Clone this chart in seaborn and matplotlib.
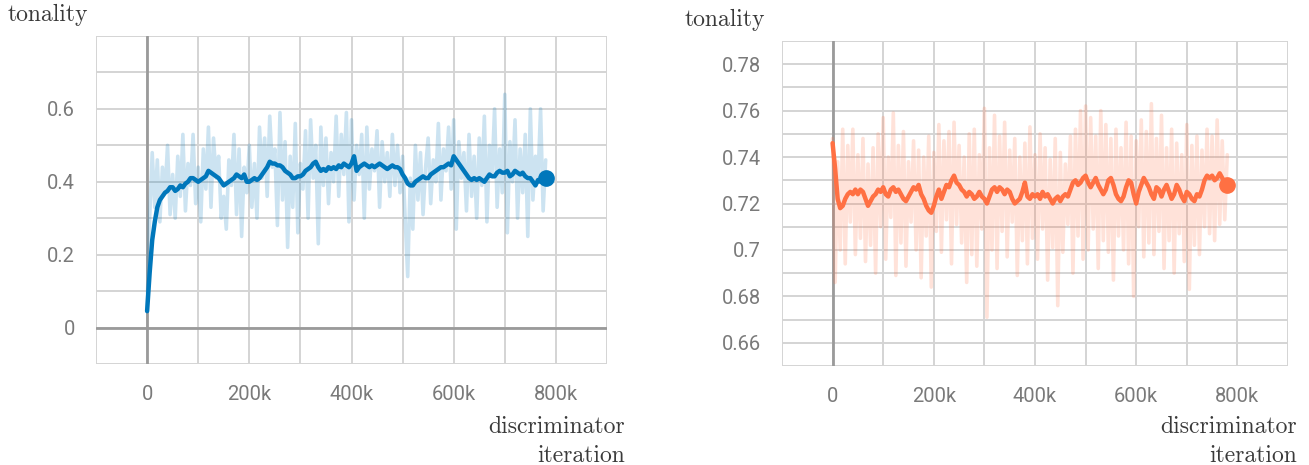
import numpy as np
import pandas as pd
import matplotlib
matplotlib.use("Agg")
import matplotlib.pyplot as plt
import matplotlib.ticker as mticker
import seaborn as sns

# ---------------- data ----------------
step_k = list(range(0, 785, 5))  # discriminator iteration, thousands

left_raw = [
    0.05, 0.30, 0.48, 0.33, 0.46, 0.29, 0.44, 0.37, 0.50, 0.31,
    0.42, 0.30, 0.47, 0.36, 0.53, 0.32, 0.45, 0.39, 0.53, 0.34,
    0.44, 0.29, 0.49, 0.38, 0.55, 0.33, 0.52, 0.41, 0.47, 0.30,
    0.36, 0.27, 0.46, 0.39, 0.53, 0.31, 0.49, 0.25, 0.44, 0.37,
    0.50, 0.33, 0.45, 0.30, 0.55, 0.41, 0.52, 0.36, 0.58, 0.44,
    0.49, 0.28, 0.59, 0.35, 0.51, 0.22, 0.47, 0.33, 0.56, 0.26,
    0.45, 0.38, 0.54, 0.30, 0.57, 0.41, 0.50, 0.23, 0.55, 0.39,
    0.52, 0.34, 0.48, 0.40, 0.58, 0.36, 0.53, 0.42, 0.59, 0.29,
    0.57, 0.35, 0.50, 0.42, 0.53, 0.30, 0.55, 0.38, 0.49, 0.43,
    0.54, 0.33, 0.51, 0.40, 0.48, 0.36, 0.53, 0.39, 0.50, 0.37,
    0.47, 0.30, 0.14, 0.41, 0.27, 0.50, 0.35, 0.48, 0.31, 0.44,
    0.52, 0.34, 0.46, 0.40, 0.56, 0.35, 0.49, 0.43, 0.55, 0.38,
    0.57, 0.27, 0.51, 0.41, 0.48, 0.32, 0.53, 0.36, 0.47, 0.30,
    0.52, 0.39, 0.58, 0.29, 0.50, 0.42, 0.60, 0.33, 0.49, 0.37,
    0.64, 0.26, 0.51, 0.40, 0.57, 0.30, 0.49, 0.37, 0.53, 0.25,
    0.60, 0.35, 0.47, 0.41, 0.60, 0.32, 0.46,
]

left_smooth = [
    0.045, 0.15, 0.24, 0.29, 0.33, 0.35, 0.36, 0.37, 0.375, 0.385,
    0.385, 0.375, 0.38, 0.39, 0.385, 0.395, 0.40, 0.41, 0.41, 0.405,
    0.40, 0.405, 0.41, 0.415, 0.43, 0.425, 0.42, 0.415, 0.41, 0.40,
    0.39, 0.395, 0.40, 0.405, 0.41, 0.42, 0.415, 0.41, 0.42, 0.40,
    0.40, 0.405, 0.41, 0.405, 0.41, 0.42, 0.43, 0.44, 0.455, 0.45,
    0.45, 0.445, 0.445, 0.44, 0.43, 0.425, 0.42, 0.41, 0.41, 0.415,
    0.415, 0.42, 0.43, 0.435, 0.44, 0.45, 0.455, 0.44, 0.43, 0.435,
    0.43, 0.44, 0.435, 0.44, 0.435, 0.445, 0.44, 0.45, 0.445, 0.44,
    0.45, 0.47, 0.43, 0.44, 0.445, 0.45, 0.445, 0.44, 0.445, 0.44,
    0.445, 0.45, 0.445, 0.44, 0.435, 0.44, 0.445, 0.44, 0.44, 0.435,
    0.42, 0.41, 0.395, 0.39, 0.39, 0.40, 0.405, 0.41, 0.415, 0.41,
    0.41, 0.42, 0.425, 0.43, 0.435, 0.44, 0.44, 0.445, 0.45, 0.445,
    0.47, 0.46, 0.45, 0.44, 0.43, 0.42, 0.41, 0.405, 0.41, 0.405,
    0.41, 0.405, 0.40, 0.41, 0.42, 0.415, 0.415, 0.425, 0.43, 0.425,
    0.425, 0.43, 0.415, 0.42, 0.43, 0.425, 0.42, 0.425, 0.415, 0.41,
    0.41, 0.40, 0.39, 0.405, 0.40, 0.41, 0.41,
]

right_raw = [
    0.748, 0.686, 0.738, 0.700, 0.752, 0.694, 0.745, 0.712, 0.752, 0.698,
    0.741, 0.705, 0.748, 0.695, 0.737, 0.702, 0.744, 0.690, 0.750, 0.710,
    0.757, 0.696, 0.740, 0.714, 0.759, 0.689, 0.745, 0.703, 0.751, 0.693,
    0.738, 0.712, 0.747, 0.700, 0.743, 0.688, 0.740, 0.706, 0.749, 0.684,
    0.742, 0.708, 0.754, 0.699, 0.747, 0.713, 0.751, 0.694, 0.755, 0.711,
    0.745, 0.703, 0.740, 0.686, 0.750, 0.698, 0.752, 0.693, 0.741, 0.709,
    0.761, 0.671, 0.744, 0.700, 0.758, 0.692, 0.749, 0.708, 0.755, 0.697,
    0.743, 0.712, 0.748, 0.689, 0.740, 0.704, 0.746, 0.694, 0.753, 0.705,
    0.741, 0.696, 0.750, 0.709, 0.744, 0.687, 0.739, 0.701, 0.748, 0.676,
    0.742, 0.699, 0.737, 0.711, 0.749, 0.690, 0.752, 0.706, 0.760, 0.696,
    0.762, 0.700, 0.757, 0.709, 0.749, 0.692, 0.760, 0.704, 0.754, 0.699,
    0.748, 0.687, 0.752, 0.706, 0.744, 0.700, 0.755, 0.694, 0.749, 0.680,
    0.747, 0.710, 0.756, 0.697, 0.751, 0.703, 0.763, 0.698, 0.748, 0.708,
    0.758, 0.692, 0.744, 0.704, 0.752, 0.690, 0.746, 0.707, 0.741, 0.695,
    0.754, 0.683, 0.745, 0.702, 0.749, 0.698, 0.743, 0.710, 0.752, 0.707,
    0.749, 0.704, 0.756, 0.711, 0.747, 0.713, 0.741,
]

right_smooth = [
    0.746, 0.735, 0.722, 0.718, 0.719, 0.722, 0.724, 0.725, 0.724, 0.726,
    0.724, 0.726, 0.725, 0.722, 0.719, 0.721, 0.723, 0.724, 0.726, 0.725,
    0.727, 0.724, 0.723, 0.726, 0.727, 0.725, 0.726, 0.724, 0.722, 0.721,
    0.723, 0.725, 0.727, 0.726, 0.728, 0.724, 0.722, 0.719, 0.717, 0.716,
    0.719, 0.723, 0.726, 0.722, 0.725, 0.728, 0.727, 0.730, 0.732, 0.729,
    0.728, 0.726, 0.725, 0.723, 0.725, 0.724, 0.722, 0.723, 0.725, 0.723,
    0.722, 0.720, 0.723, 0.726, 0.727, 0.725, 0.727, 0.726, 0.724, 0.726,
    0.725, 0.722, 0.720, 0.721, 0.722, 0.725, 0.729, 0.723, 0.722, 0.724,
    0.723, 0.724, 0.722, 0.725, 0.723, 0.724, 0.722, 0.720, 0.722, 0.723,
    0.721, 0.723, 0.724, 0.723, 0.726, 0.729, 0.730, 0.728, 0.729, 0.731,
    0.732, 0.729, 0.727, 0.729, 0.731, 0.728, 0.726, 0.724, 0.726, 0.730,
    0.731, 0.728, 0.724, 0.722, 0.721, 0.723, 0.727, 0.730, 0.729, 0.724,
    0.720, 0.725, 0.728, 0.731, 0.729, 0.727, 0.724, 0.722, 0.727, 0.726,
    0.723, 0.726, 0.728, 0.725, 0.722, 0.724, 0.728, 0.726, 0.723, 0.721,
    0.725, 0.724, 0.722, 0.721, 0.724, 0.723, 0.726, 0.730, 0.732, 0.731,
    0.732, 0.730, 0.731, 0.733, 0.731, 0.729, 0.728,
]

x_ticks_k = [0, 200, 400, 600, 800]
left_yticks = [0, 0.2, 0.4, 0.6]
right_yticks = [0.66, 0.68, 0.70, 0.72, 0.74, 0.76, 0.78]
y_label = "tonality"
x_label = "discriminator\niteration"

# ---------------- style ----------------
sns.set_style("white")
plt.rcParams["font.family"] = ["Roboto", "DejaVu Sans"]

BLUE = "#0077bb"
ORANGE = "#ff7043"
GRID = "#d4d4d4"
AXIS0 = "#9a9a9a"
TICKC = "#7a7a7a"

fig = plt.figure(figsize=(13.09, 4.65), dpi=100)
axL = fig.add_axes([96 / 1309, 1 - 364 / 465, (607 - 96) / 1309, (364 - 36) / 465])
axR = fig.add_axes([782 / 1309, 1 - 366 / 465, (1288 - 782) / 1309, (366 - 41) / 465])


def draw(ax, raw, smooth, color, ylim, ymajor, yminor_step, zero_h):
    xs = np.array(step_k) * 1000.0
    df = pd.DataFrame({"x": xs, "raw": raw, "smooth": smooth})
    ax.set_xlim(-100000, 900000)
    ax.set_ylim(*ylim)
    ax.xaxis.set_major_locator(mticker.FixedLocator([v * 1000 for v in x_ticks_k]))
    ax.xaxis.set_minor_locator(mticker.MultipleLocator(100000))
    ax.yaxis.set_major_locator(mticker.FixedLocator(ymajor))
    ax.yaxis.set_minor_locator(mticker.MultipleLocator(yminor_step))
    ax.xaxis.set_major_formatter(
        mticker.FuncFormatter(lambda v, p: "0" if v == 0 else f"{int(round(v / 1000))}k"))
    ax.yaxis.set_major_formatter(mticker.FuncFormatter(lambda v, p: f"{v:g}"))
    ax.grid(True, which="both", color=GRID, linewidth=1.4)
    ax.set_axisbelow(True)
    for s in ax.spines.values():
        s.set_visible(False)
    ax.tick_params(which="both", direction="out", length=9, width=1.4, color=GRID,
                   labelsize=14.5, labelcolor=TICKC, pad=6)
    ax.axvline(0, color=AXIS0, linewidth=2, zorder=1)
    if zero_h:
        ax.axhline(0, color=AXIS0, linewidth=2, zorder=1)
    sns.lineplot(data=df, x="x", y="raw", ax=ax, color=color, alpha=0.2,
                 linewidth=2.6, zorder=2)
    sns.lineplot(data=df, x="x", y="smooth", ax=ax, color=color, linewidth=3.2, zorder=3)
    ax.plot(df["x"].iloc[-1], df["smooth"].iloc[-1], "o", color=color,
            markersize=11, zorder=4)
    ax.set_xlabel("")
    ax.set_ylabel("")


draw(axL, left_raw, left_smooth, BLUE, (-0.1, 0.8), left_yticks, 0.1, True)
draw(axR, right_raw, right_smooth, ORANGE, (0.65, 0.79), right_yticks, 0.01, False)

lab_kw = dict(fontfamily="cmr10", fontsize=17, color="#3a3a3a")
fig.text(8 / 1309, 1 - 15 / 465, y_label, ha="left", va="center", **lab_kw)
fig.text(685 / 1309, 1 - 20 / 465, y_label, ha="left", va="center", **lab_kw)
fig.text(625 / 1309, 1 - 441 / 465, x_label, ha="right", va="center",
         linespacing=1.4, **lab_kw)
fig.text(1297 / 1309, 1 - 441 / 465, x_label, ha="right", va="center",
         linespacing=1.4, **lab_kw)

fig.savefig("out.png", dpi=100)
